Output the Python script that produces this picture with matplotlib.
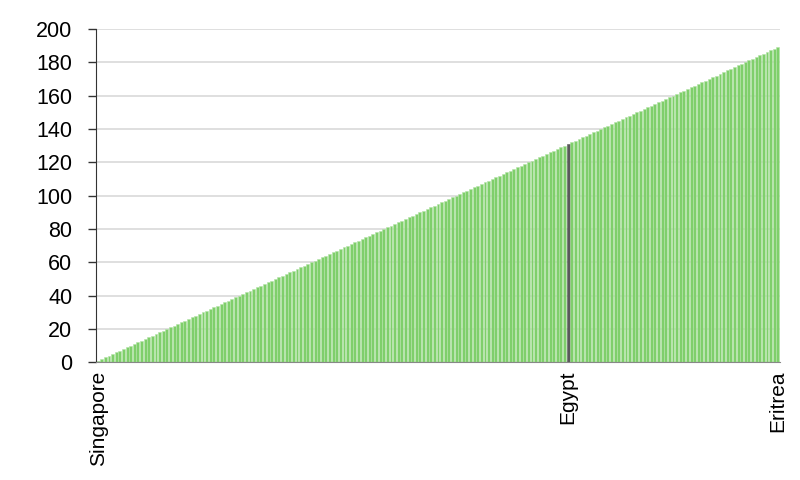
import matplotlib
matplotlib.use("Agg")
from matplotlib import pyplot as plt

plt.rcParams['font.family'] = ['Liberation Sans', 'DejaVu Sans']

# rank of each country (sorted), 1 = best
ranks = [
    1, 2, 3, 4, 5, 6, 7, 8, 9, 10, 11, 12, 13, 14, 15, 16, 17, 18, 19, 20,
    21, 22, 23, 24, 25, 26, 27, 28, 29, 30, 31, 32, 33, 34, 35, 36, 37, 38, 39, 40,
    41, 42, 43, 44, 45, 46, 47, 48, 49, 50, 51, 52, 53, 54, 55, 56, 57, 58, 59, 60,
    61, 62, 63, 64, 65, 66, 67, 68, 69, 70, 71, 72, 73, 74, 75, 76, 77, 78, 79, 80,
    81, 82, 83, 84, 85, 86, 87, 88, 89, 90, 91, 92, 93, 94, 95, 96, 97, 98, 99, 100,
    101, 102, 103, 104, 105, 106, 107, 108, 109, 110, 111, 112, 113, 114, 115, 116, 117, 118, 119, 120,
    121, 122, 123, 124, 125, 126, 127, 128, 129, 130, 131, 132, 133, 134, 135, 136, 137, 138, 139, 140,
    141, 142, 143, 144, 145, 146, 147, 148, 149, 150, 151, 152, 153, 154, 155, 156, 157, 158, 159, 160,
    161, 162, 163, 164, 165, 166, 167, 168, 169, 170, 171, 172, 173, 174, 175, 176, 177, 178, 179, 180,
    181, 182, 183, 184, 185, 186, 187, 188, 189,
]
labelled = {0: 'Singapore', 130: 'Egypt', 188: 'Eritrea'}
highlight = 130

fig, ax = plt.subplots(figsize=(8, 4.8), dpi=100)
fig.subplots_adjust(left=0.12, right=0.975, top=0.94, bottom=0.245)

x = list(range(len(ranks)))
colors = ['#5a5a5a' if i == highlight else '#7fcf6b' for i in x]
edges = ['#5a5a5a' if i == highlight else '#b5e3a8' for i in x]
ax.bar(x, ranks, width=0.8, color=colors, edgecolor=edges, linewidth=0.4, zorder=2)

ax.set_ylim(0, 200)
ax.set_yticks(range(0, 201, 20))
ax.set_xlim(-0.6, len(ranks) - 0.4)
ax.set_xticks(list(labelled.keys()))
ax.set_xticklabels(list(labelled.values()), rotation=90)
ax.tick_params(axis='x', length=0, labelsize=15, pad=6)
ax.tick_params(axis='y', direction='out', length=6, width=1, color='#333333', labelsize=15.5, pad=11)
ax.grid(axis='y', color='#d9d9d9', linewidth=1.2, zorder=0)
ax.set_axisbelow(True)

for s in ['top', 'right']:
    ax.spines[s].set_visible(False)
ax.spines['left'].set_color('#333333')
ax.spines['bottom'].set_color('#888888')

plt.savefig('out.png')
